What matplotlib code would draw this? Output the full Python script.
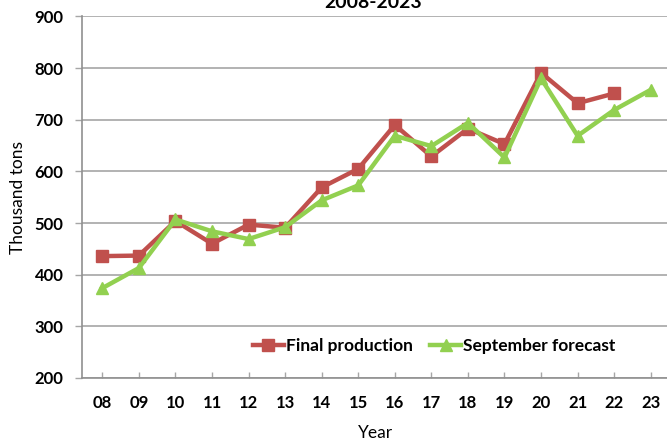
import matplotlib
matplotlib.use("Agg")
import matplotlib.pyplot as plt
from matplotlib.lines import Line2D

years = ["08", "09", "10", "11", "12", "13", "14", "15", "16", "17", "18", "19", "20", "21", "22", "23"]
final_production = [436, 437, 504, 460, 497, 491, 569, 605, 690, 629, 683, 653, 791, 732, 751, None]
september_forecast = [374, 413, 507, 484, 469, 492, 544, 573, 669, 649, 694, 627, 780, 669, 719, 758]
y_ticks = [200, 300, 400, 500, 600, 700, 800, 900]

red = "#C0504D"
green = "#92D050"
grid_c = "#A6A6A6"

plt.rcParams['font.family'] = ['Lato', 'DejaVu Sans']

fig = plt.figure(figsize=(6.67, 4.41), dpi=100)
ax = fig.add_axes([0.1222, 0.1429, 0.8808, 0.8197])

x = list(range(len(years)))
fx = [i for i, v in zip(x, final_production) if v is not None]
fv = [v for v in final_production if v is not None]

ax.plot(fx, fv, color=red, lw=3.2, marker='s', markersize=9, zorder=3,
        label="Final production")
ax.plot(x, september_forecast, color=green, lw=3.2, marker='^', markersize=9, zorder=4,
        label="September forecast")

ax.set_ylim(200, 900)
ax.set_xlim(-0.57, 15.5)
ax.set_yticks(y_ticks)
ax.set_yticklabels([str(t) for t in y_ticks], fontsize=12, fontweight='bold')
ax.set_xticks(x)
ax.set_xticklabels(years, fontsize=12, fontweight='bold')
ax.tick_params(axis='y', direction='out', length=5, color=grid_c, width=1, pad=8)
ax.tick_params(axis='x', direction='in', length=4, color=grid_c, width=1, pad=12)

ax.grid(axis='y', color=grid_c, lw=1.2)
ax.set_axisbelow(True)
for s in ['top', 'right']:
    ax.spines[s].set_visible(False)
for s in ['left', 'bottom']:
    ax.spines[s].set_color("#909090")
    ax.spines[s].set_linewidth(1.2)

ax.set_ylabel("Thousand tons", fontsize=12.5, labelpad=6)
ax.set_xlabel("Year", fontsize=12.5, labelpad=10)

fig.text(0.56, 0.995, "2008-2023", ha='center', va='center', fontsize=14, fontweight='bold')

handles = [Line2D([], [], color=red, lw=3.2, marker='s', markersize=9),
           Line2D([], [], color=green, lw=3.2, marker='^', markersize=9)]
ax.legend(handles, ["Final production", "September forecast"], loc='center',
          bbox_to_anchor=(0.60, 0.089), ncol=2, frameon=False, handlelength=1.8,
          handletextpad=0.1, columnspacing=1.0, prop={'weight': 'bold', 'size': 12.5})

fig.savefig("out.png", dpi=100)
